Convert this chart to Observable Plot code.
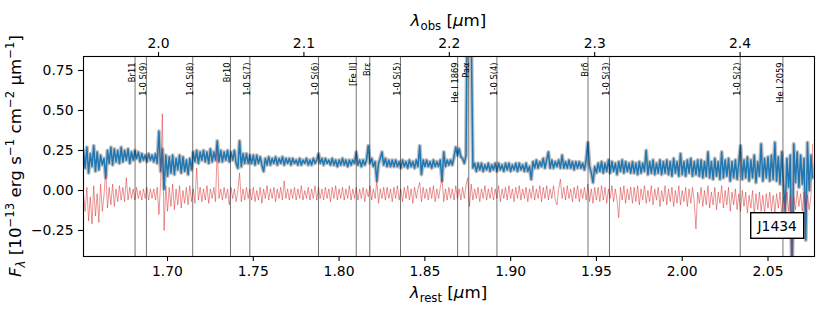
<!DOCTYPE html>
<html><head><meta charset="utf-8">
<script src="https://cdn.jsdelivr.net/npm/d3@7"></script>
<script src="https://cdn.jsdelivr.net/npm/@observablehq/plot@0.6"></script>
<style>body{margin:0;background:#fff} svg{display:block}</style>
</head><body><div id="chart"></div>
<script>
// ---- data ----
const redshift = 0.1801;
const objectName = "J1434";
const restWave = [
1.651,1.652,1.653,1.654,1.655,1.656,1.657,1.658,1.659,1.660,1.661,1.662,1.663,1.664,1.665,1.666,1.667,1.668,1.669,1.670,
1.671,1.672,1.673,1.674,1.675,1.676,1.677,1.678,1.679,1.680,1.681,1.682,1.683,1.684,1.685,1.686,1.687,1.688,1.689,1.690,
1.691,1.692,1.693,1.694,1.695,1.696,1.697,1.698,1.699,1.700,1.701,1.702,1.703,1.704,1.705,1.706,1.707,1.708,1.709,1.710,
1.711,1.712,1.713,1.714,1.715,1.716,1.717,1.718,1.719,1.720,1.721,1.722,1.723,1.724,1.725,1.726,1.727,1.728,1.729,1.730,
1.731,1.732,1.733,1.734,1.735,1.736,1.737,1.738,1.739,1.740,1.741,1.742,1.743,1.744,1.745,1.746,1.747,1.748,1.749,1.750,
1.751,1.752,1.753,1.754,1.755,1.756,1.757,1.758,1.759,1.760,1.761,1.762,1.763,1.764,1.765,1.766,1.767,1.768,1.769,1.770,
1.771,1.772,1.773,1.774,1.775,1.776,1.777,1.778,1.779,1.780,1.781,1.782,1.783,1.784,1.785,1.786,1.787,1.788,1.789,1.790,
1.791,1.792,1.793,1.794,1.795,1.796,1.797,1.798,1.799,1.800,1.801,1.802,1.803,1.804,1.805,1.806,1.807,1.808,1.809,1.810,
1.811,1.812,1.813,1.814,1.815,1.816,1.817,1.818,1.819,1.820,1.821,1.822,1.823,1.824,1.825,1.826,1.827,1.828,1.829,1.830,
1.831,1.832,1.833,1.834,1.835,1.836,1.837,1.838,1.839,1.840,1.841,1.842,1.843,1.844,1.845,1.846,1.847,1.848,1.849,1.850,
1.851,1.852,1.853,1.854,1.855,1.856,1.857,1.858,1.859,1.860,1.861,1.862,1.863,1.864,1.865,1.866,1.867,1.868,1.869,1.870,
1.871,1.872,1.873,1.874,1.875,1.876,1.877,1.878,1.879,1.880,1.881,1.882,1.883,1.884,1.885,1.886,1.887,1.888,1.889,1.890,
1.891,1.892,1.893,1.894,1.895,1.896,1.897,1.898,1.899,1.900,1.901,1.902,1.903,1.904,1.905,1.906,1.907,1.908,1.909,1.910,
1.911,1.912,1.913,1.914,1.915,1.916,1.917,1.918,1.919,1.920,1.921,1.922,1.923,1.924,1.925,1.926,1.927,1.928,1.929,1.930,
1.931,1.932,1.933,1.934,1.935,1.936,1.937,1.938,1.939,1.940,1.941,1.942,1.943,1.944,1.945,1.946,1.947,1.948,1.949,1.950,
1.951,1.952,1.953,1.954,1.955,1.956,1.957,1.958,1.959,1.960,1.961,1.962,1.963,1.964,1.965,1.966,1.967,1.968,1.969,1.970,
1.971,1.972,1.973,1.974,1.975,1.976,1.977,1.978,1.979,1.980,1.981,1.982,1.983,1.984,1.985,1.986,1.987,1.988,1.989,1.990,
1.991,1.992,1.993,1.994,1.995,1.996,1.997,1.998,1.999,2.000,2.001,2.002,2.003,2.004,2.005,2.006,2.007,2.008,2.009,2.010,
2.011,2.012,2.013,2.014,2.015,2.016,2.017,2.018,2.019,2.020,2.021,2.022,2.023,2.024,2.025,2.026,2.027,2.028,2.029,2.030,
2.031,2.032,2.033,2.034,2.035,2.036,2.037,2.038,2.039,2.040,2.041,2.042,2.043,2.044,2.045,2.046,2.047,2.048,2.049,2.050,
2.051,2.052,2.053,2.054,2.055,2.056,2.057,2.058,2.059,2.060,2.061,2.062,2.063,2.064,2.065,2.066,2.067,2.068,2.069,2.070,
2.071,2.072,2.073,2.074,2.075,2.076];
const flux = [
0.25,0.14,0.27,0.11,0.23,0.15,0.28,0.12,0.24,0.13,0.22,0.16,0.20,0.08,0.25,0.17,0.27,0.16,0.26,0.18,
0.25,0.17,0.27,0.18,0.25,0.19,0.26,0.17,0.24,0.19,0.25,0.20,0.24,0.18,0.23,0.19,0.22,0.18,0.23,0.19,
0.22,0.18,0.23,0.17,0.37,0.12,0.26,0.01,0.22,0.09,0.21,0.11,0.22,0.10,0.20,0.13,0.22,0.11,0.21,0.12,
0.19,0.10,0.20,0.13,0.24,0.18,0.25,0.17,0.24,0.19,0.25,0.18,0.24,0.17,0.26,0.18,0.24,0.19,0.31,0.18,
0.25,0.18,0.24,0.19,0.25,0.18,0.24,0.19,0.25,0.17,0.14,0.31,0.15,0.23,0.17,0.23,0.17,0.22,0.17,0.22,
0.16,0.22,0.17,0.21,0.16,0.12,0.20,0.16,0.21,0.16,0.20,0.17,0.21,0.16,0.20,0.17,0.21,0.16,0.20,0.17,
0.20,0.16,0.20,0.17,0.19,0.16,0.20,0.16,0.19,0.17,0.20,0.16,0.19,0.16,0.20,0.17,0.19,0.23,0.17,0.20,
0.16,0.20,0.17,0.19,0.16,0.20,0.16,0.19,0.15,0.19,0.16,0.20,0.16,0.19,0.15,0.19,0.16,0.19,0.17,0.24,
0.16,0.19,0.15,0.19,0.16,0.19,0.28,0.17,0.20,0.15,0.18,0.06,0.17,0.20,0.24,0.16,0.20,0.15,0.19,0.15,
0.19,0.15,0.19,0.15,0.18,0.14,0.19,0.15,0.18,0.14,0.19,0.15,0.18,0.14,0.19,0.15,0.28,0.10,0.19,0.15,
0.19,0.15,0.18,0.14,0.19,0.15,0.18,0.15,0.19,0.06,0.24,0.15,0.19,0.16,0.19,0.16,0.21,0.27,0.22,0.26,
0.21,0.20,0.17,0.22,1.50,1.80,1.00,0.14,0.17,0.12,0.17,0.13,0.17,0.12,0.16,0.13,0.17,0.12,0.16,0.13,
0.17,0.12,0.17,0.13,0.16,0.12,0.17,0.13,0.17,0.12,0.16,0.13,0.17,0.12,0.17,0.13,0.16,0.12,0.17,0.12,
0.15,0.07,0.18,0.14,0.19,0.14,0.18,0.15,0.20,0.14,0.19,0.24,0.14,0.19,0.14,0.18,0.15,0.19,0.14,0.22,
0.14,0.18,0.14,0.19,0.14,0.18,0.13,0.18,0.14,0.18,0.14,0.17,0.13,0.19,0.30,0.15,0.11,0.05,0.15,0.11,
0.17,0.12,0.18,0.11,0.17,0.12,0.19,0.11,0.18,0.12,0.17,0.10,0.18,0.12,0.19,0.11,0.18,0.12,0.17,0.11,
0.18,0.11,0.17,0.10,0.18,0.11,0.17,0.12,0.25,0.10,0.18,0.11,0.19,0.10,0.17,0.11,0.19,0.10,0.18,0.11,
0.19,0.10,0.18,0.09,0.20,0.11,0.18,0.09,0.23,0.10,0.18,0.09,0.19,0.11,0.20,0.09,0.18,0.10,0.19,0.09,
0.19,0.08,0.18,0.09,0.24,0.08,0.18,0.07,0.20,0.09,0.18,0.07,0.24,0.08,0.19,0.09,0.20,0.06,0.18,0.08,
0.19,0.07,0.18,0.28,0.07,0.19,0.08,0.21,0.06,0.19,0.08,0.22,0.05,0.18,0.09,0.29,0.06,0.20,0.08,0.21,
0.06,0.22,0.07,0.30,0.06,0.21,0.04,0.24,0.05,-0.13,0.20,0.02,0.22,-0.60,0.29,0.05,0.24,0.02,0.22,0.04,
0.20,-0.31,0.30,0.00,0.22,0.08];
const resid = [
-0.02,-0.13,0.02,-0.19,-0.04,-0.21,0.03,-0.16,-0.02,-0.20,0.04,-0.13,-0.03,0.13,-0.11,0.02,-0.09,0.04,-0.10,0.01,
-0.07,0.03,-0.06,0.02,-0.07,0.08,-0.06,0.02,-0.05,0.01,-0.06,0.02,-0.05,0.00,-0.06,0.01,-0.05,0.02,-0.06,0.01,
-0.05,0.01,-0.06,0.02,-0.15,0.05,0.48,-0.25,0.03,-0.13,0.02,-0.10,0.04,-0.12,0.01,-0.09,0.03,-0.11,0.00,-0.08,
0.02,-0.09,0.03,-0.07,0.01,-0.08,0.14,-0.06,0.02,-0.07,0.01,-0.06,0.03,-0.08,0.01,-0.05,0.02,-0.07,0.28,-0.05,
0.01,-0.06,0.02,-0.05,0.01,-0.09,0.02,-0.05,0.01,-0.07,0.00,0.11,-0.07,0.01,-0.06,0.02,-0.05,0.01,-0.06,0.02,
-0.07,0.00,-0.06,0.02,-0.08,0.01,-0.05,0.03,-0.06,0.01,-0.05,0.02,-0.07,0.01,-0.05,0.02,-0.06,0.06,-0.05,0.01,
-0.06,0.01,-0.05,0.02,-0.06,0.01,-0.05,0.03,-0.06,0.00,-0.05,0.02,-0.06,0.01,-0.05,0.03,-0.06,0.02,-0.05,0.01,
-0.06,0.02,-0.05,0.01,-0.07,0.02,-0.05,0.03,-0.06,0.01,-0.05,0.02,-0.06,0.01,-0.05,0.03,-0.06,0.01,-0.05,0.02,
-0.06,0.01,-0.05,0.02,-0.07,0.01,-0.04,0.03,-0.06,0.01,-0.05,0.06,-0.08,0.01,-0.05,0.02,-0.06,0.02,-0.05,0.01,
-0.07,0.02,-0.05,0.03,-0.06,0.01,-0.07,0.02,-0.05,0.03,-0.06,0.01,-0.08,0.02,-0.05,0.01,0.05,-0.07,0.02,-0.05,
0.01,-0.06,0.02,-0.05,0.03,-0.07,0.01,-0.05,0.02,0.08,-0.07,0.01,-0.06,0.02,-0.05,0.01,-0.06,0.03,-0.05,0.01,
-0.06,0.02,-0.05,0.03,0.08,-0.10,0.04,-0.06,0.01,-0.05,0.02,-0.07,0.01,-0.05,0.03,-0.06,0.01,-0.05,0.02,-0.06,
0.01,-0.05,0.03,-0.07,0.01,-0.05,0.02,-0.06,0.03,-0.05,0.01,-0.07,0.02,-0.05,0.03,-0.06,0.01,-0.05,0.02,-0.07,
0.01,-0.05,0.03,-0.06,0.01,-0.05,0.03,-0.07,0.02,-0.05,0.03,-0.06,0.01,-0.05,0.03,-0.06,-0.09,0.01,0.07,-0.05,
0.02,-0.06,0.03,-0.05,0.01,-0.07,0.02,-0.05,0.03,-0.07,0.01,-0.05,0.02,-0.06,0.04,-0.07,0.01,-0.08,0.02,-0.06,
0.02,-0.07,0.03,-0.06,0.02,-0.08,0.01,-0.05,0.03,-0.07,0.01,-0.06,-0.17,0.02,-0.06,0.03,-0.08,0.01,-0.06,0.02,
-0.08,0.02,-0.07,0.03,-0.09,0.01,-0.06,0.03,-0.08,0.00,-0.07,0.03,-0.09,0.01,-0.06,0.02,-0.10,0.00,-0.07,0.03,
-0.09,0.01,-0.07,0.02,-0.10,0.00,-0.08,0.03,-0.09,0.00,-0.07,0.02,-0.10,0.01,-0.08,0.02,-0.07,-0.24,-0.01,-0.08,
0.02,-0.10,0.00,-0.09,0.03,-0.11,-0.01,-0.09,0.02,-0.12,-0.01,-0.08,0.03,-0.11,0.00,-0.09,0.02,-0.13,-0.01,-0.09,
0.01,-0.12,-0.02,-0.13,0.00,-0.10,-0.01,-0.14,-0.03,-0.11,0.00,-0.15,-0.02,-0.12,-0.01,-0.13,-0.03,-0.14,-0.02,-0.11,
-0.01,-0.13,-0.03,-0.14,-0.02,-0.11,-0.01,-0.15,-0.04,-0.12,-0.01,-0.13,-0.03,-0.60,-0.04,-0.12,0.00,-0.10,-0.02,-0.13,
-0.01,-0.14,-0.03,-0.12,-0.04,0.29];
const lineWave = [1.6811,1.6877,1.7147,1.7367,1.7480,1.7880,1.8100,1.8179,1.8358,1.8691,1.8756,1.8920,1.9451,1.9576,2.0338,2.0587];
const lineLabel = ["Br11","1-0 S(9)","1-0 S(8)","Br10","1-0 S(7)","1-0 S(6)","[Fe II]","Brε","1-0 S(5)","He I 1869","Paα","1-0 S(4)","Brδ","1-0 S(3)","1-0 S(2)","He I 2059"];
const restTicks = [1.70,1.75,1.80,1.85,1.90,1.95,2.00,2.05];
const obsTicks = [2.0,2.1,2.2,2.3,2.4];
const fluxTicks = [-0.25,0.00,0.25,0.50,0.75];

// ---- chart ----
const spec = restWave.map((w,i)=>({w, f: flux[i], r: resid[i]}));
const lines = lineWave.map((w,i)=>({w, label: lineLabel[i]}));
const W = 830, H = 312, mT = 56, mR = 16, mB = 56, mL = 83;
const yTop = 0.8375, yBot = -0.4125;
const axisCommon = {tickSize: 5, fontSize: 13.9, label: null, stroke: "#000", strokeWidth: 1.1};
const svg = Plot.plot({
  width: W, height: H,
  marginTop: mT, marginRight: mR, marginBottom: mB, marginLeft: mL,
  style: {fontFamily: '"DejaVu Sans", sans-serif', background: "white", color: "#000"},
  x: {domain: [1.65104, 2.0771]},
  y: {domain: [yBot, yTop]},
  marks: [
    Plot.line(spec, {x: "w", y: "f", stroke: "#7f7f7f", strokeWidth: 4, strokeOpacity: 0.5, clip: true}),
    Plot.line(spec, {x: "w", y: "f", stroke: "#1f77b4", strokeWidth: 1.5, clip: true}),
    Plot.line(spec, {x: "w", y: "r", stroke: "#d62728", strokeOpacity: 0.7, strokeWidth: 0.7, clip: true}),
    Plot.ruleX(lines, {x: "w", stroke: "#000", strokeOpacity: 0.6, strokeWidth: 0.9}),
    Plot.text(lines, {x: "w", y: yTop, text: "label", rotate: -90, textAnchor: "end", lineAnchor: "bottom", dx: 0, dy: 6, fontSize: 8.3, fill: "#000"}),
    Plot.axisX({...axisCommon, ticks: restTicks, tickFormat: d3.format(".2f"), anchor: "bottom", tickPadding: 5}),
    Plot.axisX({...axisCommon, ticks: obsTicks.map(o => o / (1 + redshift)), tickFormat: d => d3.format(".1f")(d * (1 + redshift)), anchor: "top", tickPadding: 4}),
    Plot.axisY({...axisCommon, ticks: fluxTicks, tickFormat: d3.format(".2f"), anchor: "left", tickPadding: 5}),
    Plot.frame({stroke: "#000", strokeWidth: 1.1})
  ]
});

function mathLabel(x, y, rotate, parts, size) {
  const t = d3.select(svg).append("text")
    .attr("transform", `translate(${x},${y}) rotate(${rotate})`)
    .attr("text-anchor", "middle").attr("font-size", size).attr("fill", "#000")
    .attr("font-family", '"DejaVu Sans", sans-serif');
  let shift = 0;
  for (const p of parts) {
    const target = p.sub ? size * 0.24 : p.sup ? -size * 0.4 : 0;
    const ts = t.append("tspan").text(p.t).attr("dy", target - shift);
    if (p.sub || p.sup) ts.attr("font-size", size * 0.7);
    if (p.it) ts.attr("font-style", "italic");
    shift = target;
  }
}
const cx = mL + (W - mL - mR) / 2, cy = mT + (H - mT - mB) / 2;
mathLabel(cx, 298, 0, [{t: "λ", it: 1}, {t: "rest", sub: 1}, {t: " ["}, {t: "μ", it: 1}, {t: "m]"}], 16.7);
mathLabel(cx, 25.5, 0, [{t: "λ", it: 1}, {t: "obs", sub: 1}, {t: " ["}, {t: "μ", it: 1}, {t: "m]"}], 16.7);
mathLabel(21, cy, -90, [{t: "F", it: 1}, {t: "λ", it: 1, sub: 1}, {t: " [10"}, {t: "−13", sup: 1}, {t: " erg s"}, {t: "−1", sup: 1}, {t: " cm"}, {t: "−2", sup: 1}, {t: " μm"}, {t: "−1", sup: 1}, {t: "]"}], 16.7);

// object name box, anchored to lower-right corner of the frame
const bx1 = W - mR - 10.3, by1 = H - mB - 17.7, bw = 53, bh = 25.6;
const g = d3.select(svg).append("g");
g.append("rect").attr("x", bx1 - bw).attr("y", by1 - bh).attr("width", bw).attr("height", bh)
  .attr("fill", "#fff").attr("stroke", "#000").attr("stroke-width", 1.4);
g.append("text").attr("x", bx1 - bw / 2).attr("y", by1 - bh / 2).attr("dy", "0.36em")
  .attr("text-anchor", "middle").attr("font-size", 13.9).attr("fill", "#000")
  .attr("font-family", '"DejaVu Sans", sans-serif').text(objectName);

document.getElementById("chart").appendChild(svg);
</script>
</body></html>
